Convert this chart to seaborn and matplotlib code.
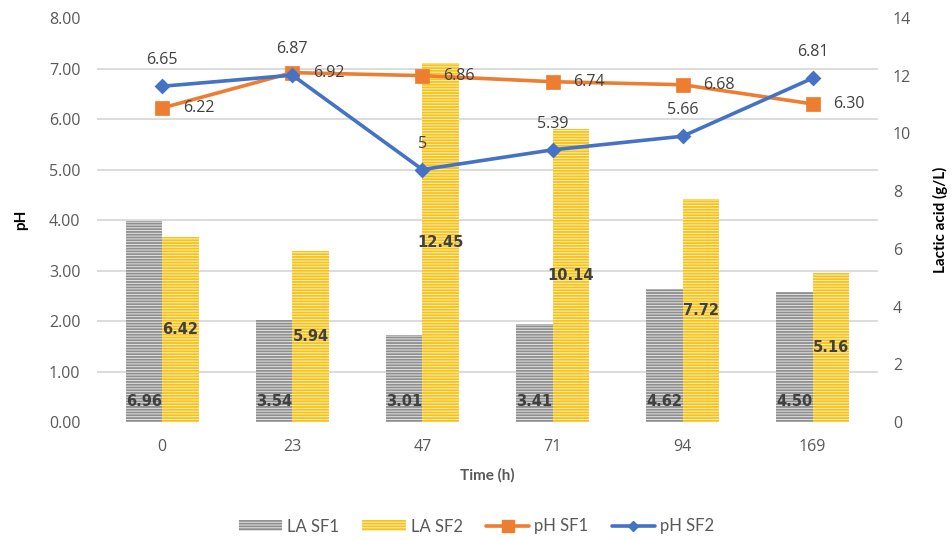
import numpy as np
import pandas as pd
import seaborn as sns
import matplotlib.pyplot as plt
from matplotlib.patches import Patch
from matplotlib.lines import Line2D

# Sampling times (h)
times = ["0", "23", "47", "71", "94", "169"]
# Lactic acid concentration (g/L)
la_sf1 = [6.96, 3.54, 3.01, 3.41, 4.62, 4.50]
la_sf2 = [6.42, 5.94, 12.45, 10.14, 7.72, 5.16]
# pH values
ph_sf1 = [6.22, 6.92, 6.86, 6.74, 6.68, 6.30]
ph_sf2 = [6.65, 6.87, 5.00, 5.39, 5.66, 6.81]
ph_sf2_labels = ["6.65", "6.87", "5", "5.39", "5.66", "6.81"]

la_series = ["LA SF1", "LA SF2"]
ph_series = ["pH SF1", "pH SF2"]

la_face = {"LA SF1": "#e4e4e4", "LA SF2": "#fff0b8"}
la_hatch = {"LA SF1": "#8f8f8f", "LA SF2": "#f7c21c"}
ph_colors = {"pH SF1": "#ed7d31", "pH SF2": "#4472c4"}

TXT = "#404040"
TICK = "#595959"

sns.set_theme(style="white")
plt.rcParams["font.family"] = ["Open Sans", "DejaVu Sans"]
plt.rcParams["hatch.linewidth"] = 1.3

df_la = pd.DataFrame({
    "Time": times * 2,
    "LA": la_sf1 + la_sf2,
    "Series": [la_series[0]] * len(times) + [la_series[1]] * len(times),
})
df_ph = pd.DataFrame({
    "Time": times * 2,
    "pH": ph_sf1 + ph_sf2,
    "Series": [ph_series[0]] * len(times) + [ph_series[1]] * len(times),
})

fig = plt.figure(figsize=(9.53, 5.4), dpi=100)
ax = fig.add_axes([0.102, 0.2185, 0.819, 0.748])

# Lactic acid bars (right axis)
sns.barplot(data=df_la, x="Time", y="LA", hue="Series", order=times,
            hue_order=la_series, palette=la_face, width=0.56, saturation=1,
            linewidth=0, legend=False, ax=ax)
for cont, name in zip(ax.containers, la_series):
    for p in cont:
        p.set_hatch("------")
        p.set_edgecolor(la_hatch[name])
        p.set_linewidth(0)

ax.set_ylim(0, 14)
ax.set_xlim(-0.5, len(times) - 0.5)
ax.set_yticks(np.arange(0, 15, 2))
# grid follows the pH ticks (eight equal steps)
ax.set_yticks(np.linspace(0, 14, 9), minor=True)
ax.grid(False, which="major")
ax.grid(True, which="minor", axis="y", color="#d9d9d9", lw=1.3)
ax.set_axisbelow(True)
ax.tick_params(axis="x", length=0, pad=12, labelsize=11.5, labelcolor=TICK)
ax.set_xlabel("")
ax.set_ylabel("")

# bar value labels
bar_font = dict(fontsize=10.5, fontweight="bold", color=TXT,
                family=["DejaVu Sans"])
sf1_cont, sf2_cont = ax.containers[0], ax.containers[1]
for p, v in zip(sf1_cont, la_sf1):
    ax.annotate(f"{v:.2f}", (p.get_x() + p.get_width() / 2, 0),
                xytext=(0, 14.5), textcoords="offset points",
                ha="center", va="center", zorder=5, **bar_font)
ax.bar_label(sf2_cont, labels=[f"{v:.2f}" for v in la_sf2],
             label_type="center", **bar_font)

# pH lines (left axis)
ax2 = ax.twinx()
sns.pointplot(data=df_ph, x="Time", y="pH", hue="Series", order=times,
              hue_order=ph_series, palette=ph_colors, markers=["s", "D"],
              linestyles=["-", "-"], errorbar=None, legend=False, ax=ax2,
              linewidth=2.6)
marker_sizes = {0: 9, 1: 6.5}
for i, line in enumerate(ax2.lines[:2]):
    line.set_markersize(marker_sizes[i])
    line.set_linewidth(2.6)
    line.set_zorder(3)
ax2.set_ylim(0, 8)
ax2.set_xlim(-0.5, len(times) - 0.5)
ax2.set_yticks(np.arange(0, 9, 1))
ax2.set_yticklabels([f"{t:.2f}" for t in np.arange(0, 9, 1)])
ax2.grid(False)
ax2.set_xlabel("")
ax2.set_ylabel("")

# put lactic acid scale on the right, pH scale on the left
ax.tick_params(axis="y", which="both", left=False, right=False,
               labelleft=False, labelright=True, length=0, pad=11,
               labelsize=11.5, labelcolor=TICK)
ax2.tick_params(axis="y", which="both", left=False, right=False,
                labelleft=True, labelright=False, length=0, pad=12,
                labelsize=11.5, labelcolor=TICK)

for s in list(ax.spines.values()) + list(ax2.spines.values()):
    s.set_visible(False)

for i, (v, lab) in enumerate(zip(ph_sf2, ph_sf2_labels)):
    ax2.annotate(lab, (i, v), xytext=(0, 13), textcoords="offset points",
                 ha="center", va="bottom", fontsize=11.5, color=TXT)
for i, v in enumerate(ph_sf1):
    ax2.annotate(f"{v:.2f}", (i, v), xytext=(15, 0), textcoords="offset points",
                 ha="left", va="center", fontsize=11.5, color=TXT)

# axis titles
fig.text(0.022, 0.593, "pH", rotation=90, ha="center", va="center",
         fontsize=11, fontweight="bold", color="black", family=["Lato", "DejaVu Sans"])
fig.text(0.987, 0.593, "Lactic acid (g/L)", rotation=90, ha="center",
         va="center", fontsize=11, fontweight="bold", color="black",
         family=["Lato", "DejaVu Sans"])
fig.text(0.511, 0.12, "Time (h)", ha="center", va="center", fontsize=11,
         fontweight="bold", color=TICK, family=["Lato", "DejaVu Sans"])

# legend
handles = [
    Patch(facecolor=la_face["LA SF1"], edgecolor=la_hatch["LA SF1"],
          hatch="------", linewidth=0),
    Patch(facecolor=la_face["LA SF2"], edgecolor=la_hatch["LA SF2"],
          hatch="------", linewidth=0),
    Line2D([], [], color=ph_colors["pH SF1"], marker="s", markersize=8, lw=2.6),
    Line2D([], [], color=ph_colors["pH SF2"], marker="D", markersize=5, lw=2.6),
]
fig.legend(handles, la_series + ph_series, loc="center", ncol=4,
           bbox_to_anchor=(0.5, 0.025), frameon=False,
           handlelength=2.6, handleheight=0.6, columnspacing=1.4,
           handletextpad=0.3, labelcolor=TICK,
           prop={"family": ["Lato", "DejaVu Sans"], "size": 12})

fig.savefig("out.png", dpi=100)
